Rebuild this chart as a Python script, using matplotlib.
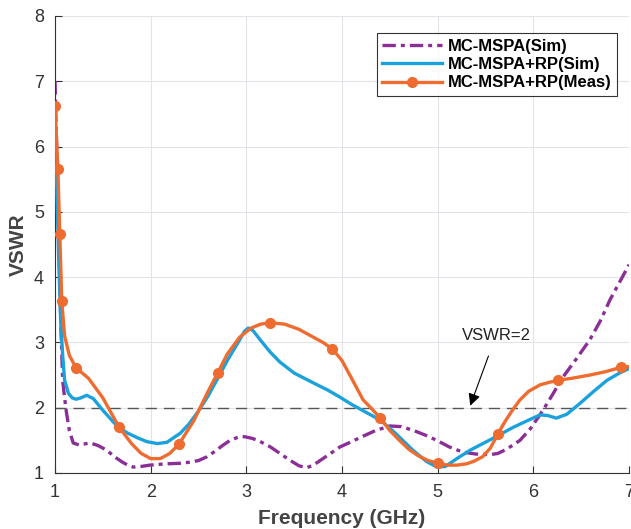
import matplotlib
matplotlib.use("Agg")
import matplotlib.pyplot as plt

plt.rcParams['font.family'] = ['Liberation Sans', 'DejaVu Sans']

# MC-MSPA (Sim)
sim_x = [1.0, 1.02, 1.04, 1.06, 1.08, 1.1, 1.12, 1.15, 1.19, 1.25, 1.37, 1.45, 1.54, 1.62, 1.7, 1.76,
         1.82, 1.9, 1.99, 2.15, 2.34, 2.5, 2.59, 2.68, 2.75, 2.83, 2.9, 2.96, 3.0, 3.06, 3.12, 3.25,
         3.35, 3.45, 3.55, 3.63, 3.7, 3.8, 3.9, 3.98, 4.1, 4.2, 4.35, 4.5, 4.62, 4.75, 4.87, 4.99,
         5.12, 5.26, 5.4, 5.55, 5.63, 5.7, 5.78, 5.86, 5.97, 6.1, 6.2, 6.31, 6.45, 6.59, 6.7, 6.8,
         6.9, 7.0]
sim_y = [7.0, 5.8, 4.6, 3.3, 2.42, 2.15, 1.92, 1.65, 1.46, 1.43, 1.46, 1.42, 1.35, 1.25, 1.17, 1.12,
         1.09, 1.1, 1.12, 1.14, 1.15, 1.19, 1.25, 1.34, 1.42, 1.5, 1.54, 1.56, 1.55, 1.53, 1.5, 1.40,
         1.3, 1.2, 1.11, 1.08, 1.12, 1.22, 1.32, 1.40, 1.48, 1.55, 1.65, 1.72, 1.71, 1.65, 1.58, 1.5,
         1.4, 1.32, 1.29, 1.28, 1.3, 1.35, 1.42, 1.5, 1.68, 1.96, 2.2, 2.47, 2.75, 3.04, 3.33, 3.65,
         3.92, 4.19]

# MC-MSPA+RP (Sim)
rp_sim_x = [1.0, 1.02, 1.04, 1.06, 1.08, 1.1, 1.14, 1.18, 1.22, 1.27, 1.33, 1.4, 1.5, 1.58, 1.66,
            1.76, 1.86, 1.96, 2.07, 2.17, 2.31, 2.4, 2.5, 2.6, 2.69, 2.8, 2.93, 2.98, 3.02, 3.07,
            3.15, 3.25, 3.35, 3.5, 3.7, 3.85, 3.98, 4.1, 4.2, 4.3, 4.4, 4.55, 4.74, 4.88, 4.99,
            5.08, 5.2, 5.34, 5.55, 5.79, 5.95, 6.07, 6.15, 6.24, 6.35, 6.49, 6.63, 6.77, 6.9, 7.0]
rp_sim_y = [6.4, 5.3, 4.2, 3.3, 2.8, 2.42, 2.22, 2.15, 2.13, 2.15, 2.19, 2.14, 1.96, 1.83, 1.70,
            1.61, 1.54, 1.48, 1.45, 1.47, 1.61, 1.75, 1.95, 2.18, 2.42, 2.72, 3.04, 3.17, 3.22, 3.18,
            3.03, 2.85, 2.70, 2.53, 2.38, 2.27, 2.16, 2.05, 1.97, 1.89, 1.81, 1.62, 1.35, 1.18, 1.09,
            1.1, 1.22, 1.35, 1.51, 1.70, 1.81, 1.89, 1.88, 1.84, 1.9, 2.07, 2.25, 2.42, 2.53, 2.6]

# MC-MSPA+RP (Meas), line and measured points
meas_x = [1.0, 1.03, 1.05, 1.07, 1.1, 1.15, 1.22, 1.35, 1.5, 1.67, 1.8, 1.9, 2.0, 2.1, 2.2, 2.3,
          2.45, 2.6, 2.7, 2.8, 2.93, 3.05, 3.15, 3.25, 3.4, 3.55, 3.7, 3.8, 3.9, 4.0, 4.1, 4.22, 4.3,
          4.4, 4.5, 4.6, 4.7, 4.8, 4.9, 5.0, 5.1, 5.2, 5.3, 5.38, 5.47, 5.55, 5.63, 5.7, 5.78, 5.86,
          5.95, 6.07, 6.17, 6.26, 6.4, 6.59, 6.75, 6.92, 7.0]
meas_y = [6.62, 5.66, 4.66, 3.64, 3.1, 2.8, 2.61, 2.45, 2.15, 1.70, 1.45, 1.3, 1.22, 1.22, 1.3, 1.45,
          1.8, 2.25, 2.53, 2.82, 3.08, 3.22, 3.28, 3.30, 3.28, 3.2, 3.08, 3.0, 2.9, 2.72, 2.45, 2.12, 2.0,
          1.84, 1.65, 1.5, 1.36, 1.26, 1.19, 1.15, 1.12, 1.12, 1.14, 1.18, 1.25, 1.38, 1.60, 1.78, 1.96,
          2.12, 2.25, 2.35, 2.39, 2.42, 2.45, 2.5, 2.55, 2.62, 2.63]
marker_x = [1.0, 1.03, 1.05, 1.07, 1.22, 1.67, 2.3, 2.7, 3.25, 3.9, 4.4, 5.0, 5.63, 6.26, 6.92]
marker_y = [6.62, 5.66, 4.66, 3.64, 2.61, 1.70, 1.45, 2.53, 3.30, 2.90, 1.84, 1.15, 1.60, 2.42, 2.62]

x_ticks = [1, 2, 3, 4, 5, 6, 7]
y_ticks = [1, 2, 3, 4, 5, 6, 7, 8]

purple = '#8B2F96'
blue = '#1BA1DB'
orange = '#EE6C30'

fig = plt.figure(figsize=(6.31, 5.29), dpi=100)
ax = fig.add_axes([0.0872, 0.1059, 0.9097, 0.8639])

ax.axhline(2, color='#555555', lw=1.0, ls=(0, (8, 5)), zorder=1)
ax.plot(sim_x, sim_y, color=purple, lw=2.4, ls=(0, (4, 1.5, 1.2, 1.5)), label='MC-MSPA(Sim)', zorder=2)
ax.plot(rp_sim_x, rp_sim_y, color=blue, lw=2.4, label='MC-MSPA+RP(Sim)', zorder=3)
ax.plot(meas_x, meas_y, color=orange, lw=2.4, zorder=4)
ax.plot(marker_x, marker_y, 'o', color=orange, ms=7, zorder=5)
# legend proxy for the measured line with marker
ax.plot([], [], '-o', color=orange, lw=2.4, ms=7, label='MC-MSPA+RP(Meas)')

ax.annotate('VSWR=2', xy=(5.34, 2.03), xytext=(5.61, 3.11), ha='center', va='center',
            fontsize=12, color='#222222',
            arrowprops=dict(arrowstyle='-|>', color='black', lw=0.8, mutation_scale=18,
                            shrinkA=8, shrinkB=0))

ax.set_xlim(1, 7)
ax.set_ylim(1, 8)
ax.set_xticks(x_ticks)
ax.set_yticks(y_ticks)
ax.grid(True, color='#e3e3ea', lw=0.8)
ax.set_axisbelow(True)
for s in ['top', 'right']:
    ax.spines[s].set_visible(False)
for s in ['left', 'bottom']:
    ax.spines[s].set_color('#333333')
ax.tick_params(direction='in', labelsize=13, colors='#333333', length=5, pad=8)

ax.set_xlabel('Frequency (GHz)', fontsize=15, fontweight='bold', color='#444444', labelpad=6)
ax.set_ylabel('VSWR', fontsize=15, fontweight='bold', color='#444444', labelpad=4)

leg = ax.legend(loc='upper right', bbox_to_anchor=(0.979, 0.963), borderaxespad=0, fontsize=12,
                frameon=True, fancybox=False, edgecolor='black', handlelength=3.6, borderpad=0.35,
                labelspacing=0.2, handletextpad=0.3)
leg.get_frame().set_linewidth(0.8)
for t in leg.get_texts():
    t.set_fontweight('bold')

fig.savefig('out.png', dpi=100)
